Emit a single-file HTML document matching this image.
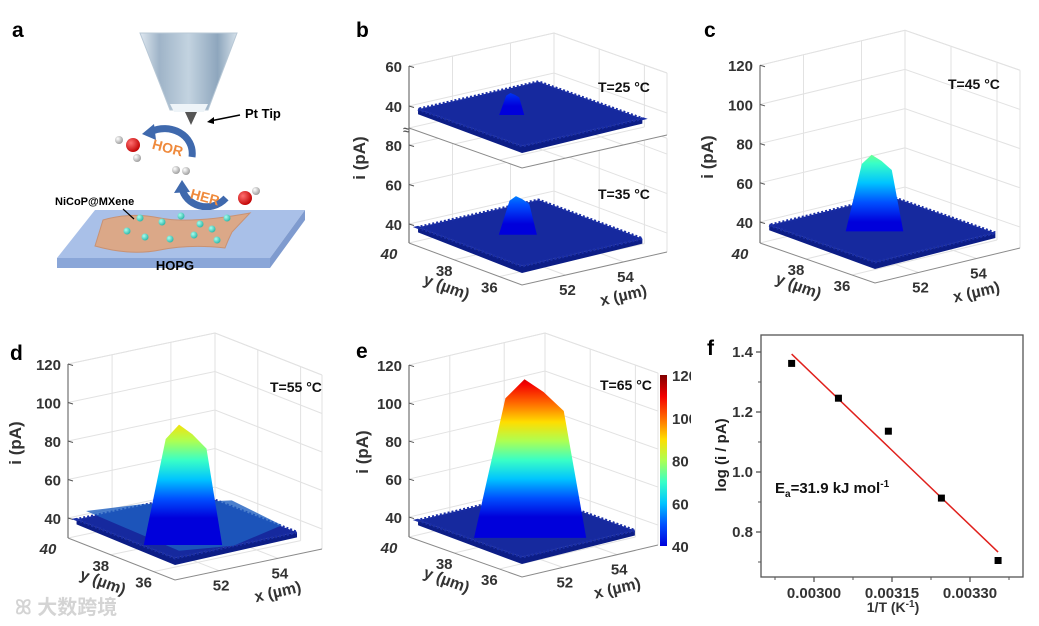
<!DOCTYPE html>
<html><head><meta charset="utf-8">
<style>
html,body{margin:0;padding:0;background:#fff;}
svg{display:block;font-family:"Liberation Sans","Noto Sans CJK SC",sans-serif;}
.lbl{font-weight:bold;font-size:21px;fill:#000;}
.tk{font-weight:bold;font-size:15px;fill:#333;}
</style></head>
<body>
<svg id="fig" width="1039" height="626" viewBox="0 0 1039 626">
<defs>
  <linearGradient id="coneG" x1="0" x2="1" y1="0" y2="0">
    <stop offset="0" stop-color="#dfe8f0"/><stop offset="0.2" stop-color="#9fb4c8"/><stop offset="0.5" stop-color="#c3d3e0"/><stop offset="0.8" stop-color="#8ea6bd"/><stop offset="1" stop-color="#d5e1ea"/>
  </linearGradient>
  <radialGradient id="oG" cx="0.35" cy="0.35" r="0.7"><stop offset="0" stop-color="#ff7070"/><stop offset="1" stop-color="#c00000"/></radialGradient>
  <radialGradient id="hG" cx="0.35" cy="0.35" r="0.7"><stop offset="0" stop-color="#ffffff"/><stop offset="1" stop-color="#9a9a9a"/></radialGradient>
  <radialGradient id="dG" cx="0.35" cy="0.35" r="0.7"><stop offset="0" stop-color="#a8fff0"/><stop offset="1" stop-color="#2bb5a6"/></radialGradient>
</defs>

<!-- Panel a -->
<g>
  <text class="lbl" x="12" y="37">a</text>
  <polygon points="140,33 237,33 208,110 170,110" fill="url(#coneG)" stroke="#b8c8d6"/>
  <polygon points="170,104 208,104 204,112 174,112" fill="#eef4f8"/>
  <polygon points="185,112 197,112 191,125" fill="#555"/>
  <line x1="240" y1="115" x2="210" y2="121" stroke="#000" stroke-width="1.6"/>
  <polygon points="207,122 214,117 214,124" fill="#000"/>
  <text x="245" y="118" font-weight="bold" font-size="13">Pt Tip</text>
  <path d="M192,157 C195,135 170,122 150,132" fill="none" stroke="#3f69ad" stroke-width="7"/>
  <polygon points="142,134 154,124 156,140" fill="#3f69ad"/>
  <text x="152" y="152" font-weight="bold" font-size="14" fill="#ef8a3c" transform="rotate(15 165 148)">HOR</text>
  <g>
    <circle cx="119" cy="140" r="4" fill="url(#hG)"/><circle cx="137" cy="158" r="4" fill="url(#hG)"/>
    <circle cx="133" cy="145" r="7" fill="url(#oG)"/>
  </g>
  <g>
    <circle cx="176" cy="170" r="4" fill="url(#hG)"/><circle cx="186" cy="171" r="4" fill="url(#hG)"/>
  </g>
  <path d="M226,198 C210,215 185,205 182,188" fill="none" stroke="#3f69ad" stroke-width="7"/>
  <polygon points="182,180 174,193 190,192" fill="#3f69ad"/>
  <text x="190" y="202" font-weight="bold" font-size="14" fill="#ef8a3c" transform="rotate(15 205 198)">HER</text>
  <g>
    <circle cx="256" cy="191" r="4" fill="url(#hG)"/>
    <circle cx="245" cy="198" r="7" fill="url(#oG)"/>
  </g>
  <polygon points="95,210 305,210 270,258 57,258" fill="#a9c0e8"/>
  <polygon points="57,258 270,258 270,268 57,268" fill="#8aa6d8"/>
  <polygon points="270,258 305,210 305,220 270,268" fill="#7f9bcf"/>
  <path d="M103,220 Q130,212 160,218 T250,213 L232,232 Q228,240 225,248 Q190,244 160,250 T95,246 Z" fill="#dba888" stroke="#c89274"/>
  <g fill="url(#dG)">
    <circle cx="140" cy="218" r="3.5"/><circle cx="162" cy="222" r="3.5"/><circle cx="181" cy="216" r="3.5"/><circle cx="200" cy="224" r="3.5"/><circle cx="227" cy="218" r="3.5"/><circle cx="212" cy="229" r="3.5"/><circle cx="127" cy="231" r="3.5"/><circle cx="145" cy="237" r="3.5"/><circle cx="170" cy="239" r="3.5"/><circle cx="194" cy="235" r="3.5"/><circle cx="217" cy="240" r="3.5"/>
  </g>
  <text x="55" y="205" font-weight="bold" font-size="11">NiCoP@MXene</text>
  <line x1="123" y1="209" x2="134" y2="219" stroke="#000" stroke-width="1.2"/>
  <text x="175" y="270" text-anchor="middle" font-weight="bold" font-size="13">HOPG</text>
</g>

<text class="lbl" x="356" y="37">b</text>
<text class="lbl" x="704" y="37">c</text>
<text class="lbl" x="10" y="360">d</text>
<text class="lbl" x="356" y="358">e</text>

<g id="panels3d"></g>

<text x="15" y="614" font-size="20" fill="#d4d4d4" font-weight="bold">ꕤ 大数跨境</text>

<g id="panelf">
  <text class="lbl" x="707" y="355">f</text>
</g>
</svg>

<script>
// ---- Data for 3D SECM surfaces ----
const temps = [25, 35, 45, 55, 65];
const peakCurrent = [47, 57, 72, 88, 114];
const baseCurrent = [40, 40, 40, 41, 40];
const zTicksFull = [40, 60, 80, 100, 120];
const yTicks = [40, 38, 36];
const xTicks = [52, 54];

// ---- Data for Arrhenius plot (panel f) ----
const invT = [0.002957, 0.003047, 0.003143, 0.003245, 0.003354];
const logI = [1.362, 1.246, 1.136, 0.913, 0.705];
const fitX = [0.002957, 0.003354];
const fitY = [1.393, 0.733];
const fXTicks = [0.00300, 0.00315, 0.00330];
const fXTickLabels = ["0.00300", "0.00315", "0.00330"];
const fYTicks = [0.8, 1.0, 1.2, 1.4];
const fYTickLabels = ["0.8", "1.0", "1.2", "1.4"];

const NS = "http://www.w3.org/2000/svg";
function mk(tag, attrs, parent) {
  const e = document.createElementNS(NS, tag);
  for (const k in attrs) e.setAttribute(k, attrs[k]);
  if (parent) parent.appendChild(e);
  return e;
}
function jet(t) {
  t = Math.max(0, Math.min(1, t));
  const r = Math.max(0, Math.min(1, 1.5 - Math.abs(4 * t - 3)));
  const g = Math.max(0, Math.min(1, 1.5 - Math.abs(4 * t - 2)));
  const b = Math.max(0, Math.min(1, 1.5 - Math.abs(4 * t - 1)));
  return "rgb(" + Math.round(r * 255) + "," + Math.round(g * 255) + "," + Math.round(b * 255) + ")";
}

const layouts = [
  {key: "b-bottom", idx: 1, L: [409, 243], F: [522, 285], R: [667, 252], k: 1.975, zmin: 30.4, zmax: 88, ticks: [40, 60, 80], pu: 0.45, pv: 0.40, skirt: 5, axes: true, tLabel: [598, 199]},
  {key: "b-top", idx: 0, L: [409, 128], F: [522, 168], R: [667, 135], k: 2.0, zmin: 29, zmax: 60, ticks: [40, 60], pu: 0.37, pv: 0.42, skirt: 8, axes: false, tLabel: [598, 92], breakTop: true, cover: true},
  {key: "c", idx: 2, L: [760, 243], F: [875, 283], R: [1020, 248], k: 1.96, zmin: 29.3, zmax: 120, ticks: zTicksFull, pu: 0.34, pv: 0.52, skirt: 14, axes: true, tLabel: [948, 89]},
  {key: "d", idx: 3, L: [68, 538], F: [175, 580], R: [322, 549], k: 1.925, zmin: 29.6, zmax: 120, ticks: zTicksFull, pu: 0.36, pv: 0.52, skirt: 30, axes: true, tLabel: [270, 392], hill: true},
  {key: "e", idx: 4, L: [409, 537], F: [522, 577], R: [658, 545], k: 1.9, zmin: 29.5, zmax: 120, ticks: zTicksFull, pu: 0.47, pv: 0.50, skirt: 18, axes: true, tLabel: [600, 390]}
];

const root = document.getElementById("panels3d");

layouts.forEach(function (P) {
  const g = mk("g", {}, root);
  
  
  const dx1 = P.F[0] - P.L[0], dy1 = P.F[1] - P.L[1];
  const dx2 = P.R[0] - P.F[0], dy2 = P.R[1] - P.F[1];
  function proj(u, v, z) {
    return [P.L[0] + u * dx1 + v * dx2, P.L[1] + u * dy1 + v * dy2 - (z - P.zmin) * P.k];
  }
  const uOf = function (y) { return (40 - y) / 5; };
  const vOf = function (x) { return (x - 50.5) / 5; };
  const grid = {stroke: "#e2e2e2", "stroke-width": 1, fill: "none"};
  if (P.cover) {
    const cv = [proj(0, 0, P.zmin), proj(1, 0, P.zmin), proj(1, 1, P.zmin), proj(1, 1, P.zmax), proj(0, 1, P.zmax), proj(0, 0, P.zmax)];
    const cp = mk("polygon", {points: cv.map(function (p) { return p.join(","); }).join(" "), fill: "#fff"}, g);
    
    
  }
  P.ticks.forEach(function (z) {
    const a = proj(0, 0, z), b = proj(0, 1, z), c = proj(1, 1, z);
    const pl = mk("polyline", Object.assign({points: a.join(",") + " " + b.join(",") + " " + c.join(",")}, grid), g);
    
    
  });
  [[0, 0], [0, 1], [1, 1]].forEach(function (c) {
    const a = proj(c[0], c[1], P.zmin), b = proj(c[0], c[1], P.zmax);
    const ln = mk("line", Object.assign({x1: a[0], y1: a[1], x2: b[0], y2: b[1]}, grid), g);
    
    
  });
  const topPts = [proj(0, 0, P.zmax), proj(0, 1, P.zmax), proj(1, 1, P.zmax)];
  const tp = mk("polyline", Object.assign({points: topPts.map(function (p) { return p.join(","); }).join(" ")}, grid), g);
  
  
  xTicks.forEach(function (x) {
    const v = vOf(x);
    const a = proj(0, v, P.zmin), b = proj(0, v, P.zmax), c = proj(1, v, P.zmin);
    const l1 = mk("line", Object.assign({x1: a[0], y1: a[1], x2: b[0], y2: b[1]}, grid), g);
    
    
    const l2 = mk("line", Object.assign({x1: a[0], y1: a[1], x2: c[0], y2: c[1]}, grid), g);
    
    
  });
  yTicks.forEach(function (y) {
    const u = uOf(y);
    const a = proj(u, 1, P.zmin), b = proj(u, 1, P.zmax), c = proj(u, 0, P.zmin);
    const l1 = mk("line", Object.assign({x1: a[0], y1: a[1], x2: b[0], y2: b[1]}, grid), g);
    
    
    const l2 = mk("line", Object.assign({x1: a[0], y1: a[1], x2: c[0], y2: c[1]}, grid), g);
    
    
  });
  const L0 = proj(0, 0, P.zmin), F0 = proj(1, 0, P.zmin), R0 = proj(1, 1, P.zmin);
  const fe = mk("polyline", {points: L0.join(",") + " " + F0.join(",") + " " + R0.join(","), fill: "none", stroke: "#8a8a8a", "stroke-width": 1}, g);
  
  
  const zt = proj(0, 0, P.zmax);
  const za = mk("line", {x1: L0[0], y1: L0[1], x2: zt[0], y2: zt[1], stroke: "#555", "stroke-width": 1}, g);
  
  
  P.ticks.forEach(function (z) {
    const p = proj(0, 0, z);
    const tk = mk("line", {x1: p[0], y1: p[1], x2: p[0] + 5, y2: p[1] + 1.5, stroke: "#555"}, g);
    
    
    const t = mk("text", {x: p[0] - 7, y: p[1] + 6, "text-anchor": "end", class: "tk"}, g);
    t.textContent = z;
    
    
  });
  if (P.breakTop) {
    const bp = proj(0, 0, P.zmin);
    const bk = mk("text", {x: bp[0] - 6, y: bp[1] + 6, "font-size": 12, fill: "#555", "font-weight": "bold"}, g);
    bk.textContent = "≈";
    
    
  }

  const gid = "jet-" + P.key;
  const y40 = proj(0, 0, 40)[1], y120 = proj(0, 0, 120)[1];
  const lg = mk("linearGradient", {id: gid, gradientUnits: "userSpaceOnUse", x1: 0, x2: 0, y1: y40, y2: y120}, document.querySelector("defs"));
  for (let i = 0; i <= 8; i++) mk("stop", {offset: i / 8, "stop-color": jet(0.09 + i / 8 * 0.91)}, lg);

  const bz = baseCurrent[P.idx];
  const ua = 0.08, va = 0.0, vb = 0.83;
  const s = [proj(ua, va, bz), proj(1, va, bz), proj(1, vb, bz), proj(ua, vb, bz)];
  const thick = [s[0], s[1], s[2], [s[2][0], s[2][1] + 5], [s[1][0], s[1][1] + 7], [s[0][0], s[0][1] + 5]];
  const th = mk("polygon", {points: thick.map(function (p) { return p.join(","); }).join(" "), fill: "#0c1d86"}, g);
  
  
  const sf = mk("polygon", {points: s.map(function (p) { return p.join(","); }).join(" "), fill: "#16299e", stroke: "#1a2ea6", "stroke-width": 3, "stroke-dasharray": "2 2"}, g);
  
  

  const pk = peakCurrent[P.idx];
  const c0 = proj(P.pu, P.pv, bz);
  const apex = proj(P.pu, P.pv, pk);
  const w = 16 + (pk - 40) * 1.3;
  const botY = c0[1] + P.skirt;
  const hgt = botY - apex[1];
  if (P.hill) {
    const hl = [proj(0.1, 0.05, bz + 4), proj(0.3, 0.3, bz + 8), proj(0.5, 0.75, bz + 7), proj(0.9, 0.8, bz + 2), proj(1, 0.4, bz), proj(0.9, 0.1, bz)];
    const hp = mk("polygon", {points: hl.map(function (p) { return p.join(","); }).join(" "), fill: "#1e5fc0", opacity: 0.8}, g);
    
    
  }
  const pts = [[c0[0] - w / 2, botY], [c0[0] - w * 0.22, apex[1] + hgt * 0.12], [c0[0] - w * 0.05, apex[1]], [c0[0] + w * 0.12, apex[1] + hgt * 0.08], [c0[0] + w * 0.3, apex[1] + hgt * 0.2], [c0[0] + w / 2, botY]];
  const pe = mk("polygon", {points: pts.map(function (p) { return p.join(","); }).join(" "), fill: "url(#" + gid + ")"}, g);
  
  

  const tl = mk("text", {x: P.tLabel[0], y: P.tLabel[1], "font-weight": "bold", "font-size": 14, fill: "#111"}, g);
  tl.textContent = "T=" + temps[P.idx] + " °C";
  
  

  if (P.axes) {
    yTicks.forEach(function (y) {
      const p = proj(uOf(y), 0, P.zmin);
      const t = mk("text", {x: p[0] - 10 + (y === 40 ? -10 : 0), y: p[1] + 16, "text-anchor": "middle", class: "tk", "font-style": y === 40 ? "italic" : "normal"}, g);
      t.textContent = y;
      
      
    });
    xTicks.forEach(function (x) {
      const p = proj(1, vOf(x), P.zmin);
      const t = mk("text", {x: p[0] + 2, y: p[1] + 20, "text-anchor": "middle", class: "tk"}, g);
      t.textContent = x;
      
      
    });
    const yl = proj(0.45, 0, P.zmin);
    const yt = mk("text", {x: yl[0] - 15, y: yl[1] + 30, "text-anchor": "middle", "font-weight": "bold", "font-size": 16, fill: "#333", transform: "rotate(20 " + (yl[0] - 15) + " " + (yl[1] + 30) + ")"}, g);
    yt.textContent = "y (µm)";
    
    
    const xl = proj(1, 0.68, P.zmin);
    const xt = mk("text", {x: xl[0] + 4, y: xl[1] + 38, "text-anchor": "middle", "font-weight": "bold", "font-size": 16, fill: "#333", transform: "rotate(-13 " + (xl[0] + 4) + " " + (xl[1] + 38) + ")"}, g);
    xt.textContent = "x (µm)";
    
    
  }
});

[[365, 158], [713, 157], [21, 443], [368, 452]].forEach(function (p) {
  const t = mk("text", {x: p[0], y: p[1], "text-anchor": "middle", "font-weight": "bold", "font-size": 17, fill: "#333", transform: "rotate(-90 " + p[0] + " " + p[1] + ")"}, root);
  t.textContent = "i (pA)";
  
  
});

const cbTicks = [40, 60, 80, 100, 120];
(function () {
  const g = mk("g", {}, root);
  
  
  const lg = mk("linearGradient", {id: "cbG", x1: 0, x2: 0, y1: 1, y2: 0}, document.querySelector("defs"));
  for (let i = 0; i <= 8; i++) mk("stop", {offset: i / 8, "stop-color": jet(0.09 + i / 8 * 0.91)}, lg);
  const y0 = 546, y1 = 375;
  const r = mk("rect", {x: 660, y: y1, width: 7, height: y0 - y1, fill: "url(#cbG)"}, g);
  
  
  cbTicks.forEach(function (v) {
    const y = y0 - (v - 40) / 80 * (y0 - y1);
    const t = mk("text", {x: 672, y: y + 6, class: "tk"}, g);
    t.textContent = v;
    
    
  });
})();

(function () {
  const g = document.getElementById("panelf");
  const X0 = 761, X1 = 1023, Y0 = 335, Y1 = 577;
  const cover = mk("rect", {x: 691, y: 330, width: 348, height: 296, fill: "#fff"}, g);
  
  
  g.appendChild(g.firstElementChild);
  const xs = function (v) { return 814 + (v - 0.003) / 0.00015 * 78; };
  const ys = function (v) { return 472 - (v - 1.0) / 0.2 * 60; };
  const fr = mk("rect", {x: X0, y: Y0, width: X1 - X0, height: Y1 - Y0, fill: "none", stroke: "#555", "stroke-width": 1.3}, g);
  
  
  fXTicks.forEach(function (v, i) {
    const x = xs(v);
    const tk = mk("line", {x1: x, y1: Y1, x2: x, y2: Y1 + 5, stroke: "#555", "stroke-width": 1.3}, g);
    
    
    const mt = mk("line", {x1: xs(v - 0.000075), y1: Y1, x2: xs(v - 0.000075), y2: Y1 + 3, stroke: "#555"}, g);
    
    
    const t = mk("text", {x: x, y: Y1 + 21, "text-anchor": "middle", class: "tk", "font-size": 14}, g);
    t.textContent = fXTickLabels[i];
    
    
  });
  const mt2 = mk("line", {x1: xs(0.003375), y1: Y1, x2: xs(0.003375), y2: Y1 + 3, stroke: "#555"}, g);
  
  
  fYTicks.forEach(function (v, i) {
    const y = ys(v);
    const tk = mk("line", {x1: X0, y1: y, x2: X0 - 5, y2: y, stroke: "#555", "stroke-width": 1.3}, g);
    
    
    const m = mk("line", {x1: X0, y1: ys(v - 0.1), x2: X0 - 3, y2: ys(v - 0.1), stroke: "#555"}, g);
    
    
    const t = mk("text", {x: X0 - 8, y: y + 5, "text-anchor": "end", class: "tk", "font-size": 14}, g);
    t.textContent = fYTickLabels[i];
    
    
  });
  const fit = mk("line", {x1: xs(fitX[0]), y1: ys(fitY[0]), x2: xs(fitX[1]), y2: ys(fitY[1]), stroke: "#e0201c", "stroke-width": 1.5}, g);
  
  
  invT.forEach(function (v, i) {
    const r = mk("rect", {x: xs(v) - 3.5, y: ys(logI[i]) - 3.5, width: 7, height: 7, fill: "#000"}, g);
    
    
  });
  const xt = mk("text", {x: 893, y: 612, "text-anchor": "middle", "font-weight": "bold", "font-size": 14, fill: "#333"}, g);
  xt.innerHTML = '1/T (K<tspan dy="-5" font-size="10">-1</tspan><tspan dy="5">)</tspan>';
  
  
  const yt = mk("text", {x: 726, y: 455, "text-anchor": "middle", "font-weight": "bold", "font-size": 15, fill: "#222", transform: "rotate(-90 726 455)"}, g);
  yt.textContent = "log (i / pA)";
  
  
  const ea = mk("text", {x: 775, y: 493, "font-weight": "bold", "font-size": 15, fill: "#111"}, g);
  ea.innerHTML = 'E<tspan dy="4" font-size="10">a</tspan><tspan dy="-4">=31.9 kJ mol</tspan><tspan dy="-6" font-size="10">-1</tspan>';
  
  
})();
</script>
</body></html>
